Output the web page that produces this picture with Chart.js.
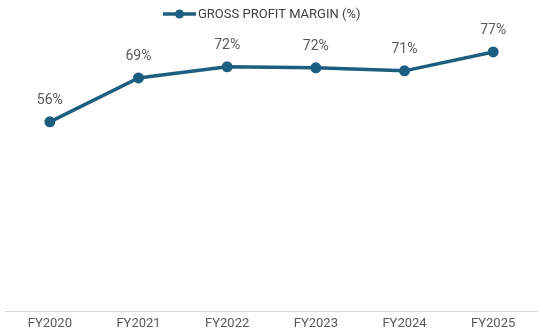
<!DOCTYPE html>
<html><head><meta charset="utf-8">
<script src="https://cdn.jsdelivr.net/npm/chart.js@4/dist/chart.umd.min.js"></script>
<style>html,body{margin:0;padding:0;background:#fff}#wrap{width:543px;height:335px}</style>
</head><body><div id="wrap"><canvas id="c"></canvas></div>
<script>
const categories = ["FY2020","FY2021","FY2022","FY2023","FY2024","FY2025"];
const seriesName = "GROSS PROFIT MARGIN (%)";
const margins = [56, 69, 72.3, 72.0, 71.1, 76.7];
const valueLabels = ["56%","69%","72%","72%","71%","77%"];

const FONT = "Roboto, 'Liberation Sans', sans-serif";
const LINE = "#1B5E80";

const labelPlugin = {
  id: 'labels',
  afterDatasetsDraw(chart) {
    const ctx = chart.ctx;
    const meta = chart.getDatasetMeta(0);
    ctx.save();
    ctx.font = "14px " + FONT;
    ctx.fillStyle = "#595959";
    ctx.textAlign = "center";
    ctx.textBaseline = "middle";
    meta.data.forEach((pt, i) => {
      ctx.fillText(valueLabels[i], pt.x, pt.y - 21);
    });
    // legend
    const text = chart.data.datasets[0].label;
    ctx.font = "13px " + FONT;
    const x0 = 163;
    const y = 14;
    ctx.strokeStyle = LINE; ctx.lineWidth = 3.5;
    ctx.beginPath(); ctx.moveTo(x0, y); ctx.lineTo(x0 + 33, y); ctx.stroke();
    ctx.fillStyle = LINE;
    ctx.beginPath(); ctx.arc(x0 + 16.5, y, 4.5, 0, Math.PI * 2); ctx.fill();
    ctx.fillStyle = "#404040"; ctx.textAlign = "left";
    ctx.fillText(text, x0 + 35, y + 1);
    ctx.restore();
  }
};

new Chart(document.getElementById('c'), {
  type: 'line',
  data: {
    labels: categories,
    datasets: [{
      label: seriesName,
      data: margins,
      borderColor: LINE,
      backgroundColor: LINE,
      borderWidth: 3.5,
      pointRadius: 5.5,
      pointHoverRadius: 5.5,
      pointBackgroundColor: LINE,
      pointBorderWidth: 0,
      tension: 0
    }]
  },
  options: {
    responsive: true,
    maintainAspectRatio: false,
    animation: false,
    layout: { padding: { left: 5, right: 0, top: 7, bottom: 0 } },
    plugins: { legend: { display: false }, tooltip: { enabled: false } },
    scales: {
      x: {
        offset: true,
        grid: { display: false, drawTicks: false },
        border: { display: true, color: "#D9D9D9", width: 1 },
        ticks: { color: "#595959", font: { family: FONT, size: 13 }, padding: 5 },
        afterFit(scale) { scale.height = 24; }
      },
      y: {
        display: false,
        min: 0,
        max: 90
      }
    }
  },
  plugins: [labelPlugin]
});
</script></body></html>
